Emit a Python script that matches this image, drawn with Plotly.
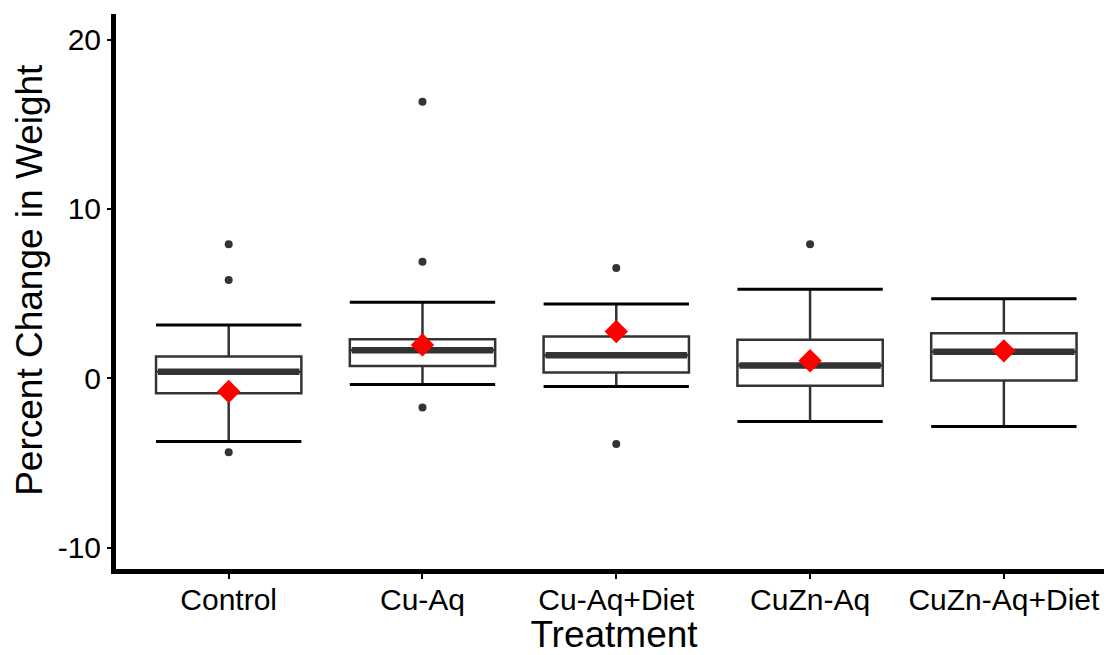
import plotly.graph_objects as go

# ---- data ----
categories = ["Control", "Cu-Aq", "Cu-Aq+Diet", "CuZn-Aq", "CuZn-Aq+Diet"]
lower_fence = [-3.74, -0.37, -0.49, -2.56, -2.85]
q1 = [-0.88, 0.73, 0.34, -0.45, -0.13]
median = [0.38, 1.66, 1.36, 0.75, 1.56]
q3 = [1.28, 2.31, 2.46, 2.27, 2.66]
upper_fence = [3.15, 4.49, 4.39, 5.26, 4.69]
means = [-0.78, 1.97, 2.76, 1.03, 1.62]
outlier_group = ["Control", "Control", "Control", "Cu-Aq", "Cu-Aq", "Cu-Aq",
                 "Cu-Aq+Diet", "Cu-Aq+Diet", "CuZn-Aq"]
outlier_value = [7.92, 5.81, -4.37, 16.33, 6.89, -1.73, 6.52, -3.89, 7.92]
y_ticks = [-10, 0, 10, 20]

BOX_W = 0.75
FONT = "Liberation Sans, Arial, sans-serif"

xpos = list(range(1, len(categories) + 1))
pos_of = {c: i for c, i in zip(categories, xpos)}

fig = go.Figure()

# boxes (whiskers drawn by box, caps drawn separately)
fig.add_trace(go.Box(
    x=xpos, q1=q1, median=median, q3=q3,
    lowerfence=lower_fence, upperfence=upper_fence,
    width=BOX_W, whiskerwidth=0, boxpoints=False,
    fillcolor="white", line=dict(color="#333333", width=2.5),
    hoverinfo="skip", showlegend=False,
))

# error-bar caps at the fences
cx, cy = [], []
for i, lo, hi in zip(xpos, lower_fence, upper_fence):
    for v in (lo, hi):
        cx += [i - BOX_W / 2, i + BOX_W / 2, None]
        cy += [v, v, None]
fig.add_trace(go.Scatter(x=cx, y=cy, mode="lines",
                         line=dict(color="black", width=3),
                         hoverinfo="skip", showlegend=False))

# thick median lines
mx, my = [], []
for i, m in zip(xpos, median):
    mx += [i - BOX_W / 2 + 0.01, i + BOX_W / 2 - 0.01, None]
    my += [m, m, None]
fig.add_trace(go.Scatter(x=mx, y=my, mode="lines",
                         line=dict(color="#333333", width=6.5),
                         hoverinfo="skip", showlegend=False))

# outliers
fig.add_trace(go.Scatter(
    x=[pos_of[g] for g in outlier_group], y=outlier_value, mode="markers",
    marker=dict(color="#333333", size=8), showlegend=False))

# means
fig.add_trace(go.Scatter(
    x=xpos, y=means, mode="markers",
    marker=dict(color="#FF0000", size=18, symbol="diamond", line=dict(width=0)),
    showlegend=False))

# the page body has an 8px default margin, so the figure is sized/offset to fit
fig.update_layout(
    width=1104, height=647,
    margin=dict(l=108, r=0, t=6, b=86),
    paper_bgcolor="white", plot_bgcolor="white",
    font=dict(family=FONT, color="black"),
    showlegend=False,
    annotations=[dict(
        text="Percent Change in Weight", textangle=-90,
        xref="paper", yref="paper", x=0, y=0.521,
        xanchor="center", yanchor="middle", xshift=-86, showarrow=False,
        font=dict(size=37, family=FONT, color="black"),
    )],
)
fig.update_xaxes(
    range=[0.4185, 5.558], tickvals=xpos, ticktext=categories,
    showgrid=False, zeroline=False,
    showline=True, linewidth=5, linecolor="black",
    ticks="outside", ticklen=5, tickwidth=2, tickcolor="black",
    tickfont=dict(size=30, family=FONT, color="black"),
    ticklabelstandoff=-5,
    title=dict(text="Treatment", font=dict(size=37, family=FONT, color="black"), standoff=12),
    automargin=False,
)
fig.update_yaxes(
    range=[-11.27, 21.52], tickvals=y_ticks, ticktext=[str(t) for t in y_ticks],
    showgrid=False, zeroline=False,
    showline=True, linewidth=5, linecolor="black",
    ticks="outside", ticklen=4, tickwidth=2, tickcolor="black",
    tickfont=dict(size=30, family=FONT, color="black"),
    automargin=False,
)

fig.write_html("out.html")
